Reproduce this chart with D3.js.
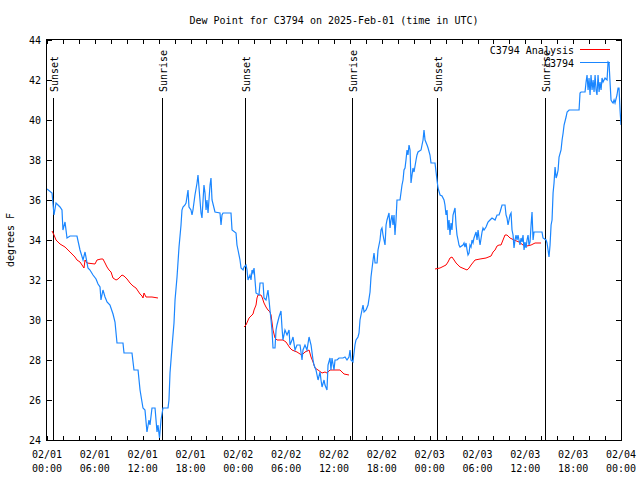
<!DOCTYPE html>
<html>
<head>
<meta charset="utf-8">
<script src="https://cdn.jsdelivr.net/npm/d3@7"></script>
<style>
body{margin:0;background:#fff;}
svg{display:block;}
text{font-family:"DejaVu Sans Mono",monospace;font-size:10px;fill:#000;}
</style>
</head>
<body>
<svg id="chart" width="640" height="480"></svg>
<script>
const title = "Dew Point for C3794 on 2025-Feb-01 (time in UTC)";
const yLabel = "degrees F";
const startTime = "2025-02-01T00:00:00Z";
const endTime = "2025-02-04T00:00:00Z";
const yTicks = [24,26,28,30,32,34,36,38,40,42,44];
const seriesNames = ["C3794 Analysis","C3794"];

// Observations: hours since start, dew point (F)
const obsHours = [0.0,0.63,0.88,1.13,1.63,1.88,2.0,2.26,2.51,2.89,3.76,4.14,4.52,4.77,5.14,5.39,5.77,6.15,6.4,6.65,6.77,7.02,7.28,7.53,7.9,8.28,8.53,8.78,9.53,9.66,10.66,10.91,11.42,11.67,12.04,12.29,12.54,12.79,12.92,13.17,13.55,13.8,13.92,14.11,14.3,14.55,15.18,15.3,15.43,15.68,15.93,16.06,16.31,16.56,16.81,16.93,17.06,17.31,17.44,17.69,17.81,18.06,18.19,18.31,18.56,18.82,18.94,19.19,19.32,19.44,19.69,19.82,19.95,20.07,20.2,20.45,20.57,20.7,20.95,21.07,21.7,21.83,21.95,22.08,23.08,23.21,23.71,23.83,23.96,24.21,24.34,24.59,24.71,24.96,25.09,25.21,25.46,25.59,25.72,25.84,25.97,26.22,26.59,26.72,27.1,27.22,27.47,27.72,27.85,27.97,28.1,28.22,28.35,28.6,28.73,28.85,29.1,29.35,29.48,29.6,29.85,30.11,30.36,30.48,30.73,30.86,31.11,31.36,31.74,31.99,32.11,32.36,32.61,32.87,33.12,33.37,33.49,33.74,34.0,34.25,34.37,34.5,34.75,34.87,35.12,35.25,35.5,35.62,35.75,36.0,36.13,36.38,36.63,37.13,37.38,37.63,37.88,38.01,38.13,38.38,38.63,38.76,39.01,39.14,39.26,39.51,39.64,39.77,40.02,40.27,40.52,40.64,40.9,41.02,41.15,41.4,41.52,41.77,41.9,42.02,42.15,42.27,42.4,42.53,42.65,42.9,43.03,43.15,43.28,43.4,43.53,43.65,43.78,43.9,44.28,44.53,44.66,44.78,44.91,45.03,45.16,45.28,45.41,45.54,45.66,45.79,45.91,46.04,46.29,46.41,46.54,46.92,47.04,47.17,47.29,47.42,47.67,47.8,48.04,48.17,48.67,48.92,49.05,49.3,49.55,49.8,49.92,50.05,50.18,50.3,50.43,50.55,50.68,50.8,50.93,51.18,51.31,51.43,51.56,51.68,51.81,52.18,52.31,52.43,52.56,52.69,52.81,52.94,53.06,53.19,53.31,53.44,53.56,53.82,53.94,54.07,54.19,54.32,54.57,54.69,54.82,55.07,55.32,55.57,55.82,56.2,56.45,56.7,56.83,57.08,57.45,57.58,57.7,57.83,58.08,58.21,58.33,58.46,58.58,58.71,58.83,58.96,59.08,59.33,59.46,59.59,59.71,59.84,59.96,60.09,60.21,60.34,60.46,60.59,60.72,60.84,60.97,61.09,62.09,62.22,62.6,62.72,62.85,62.97,63.1,63.23,63.35,63.48,63.6,63.73,63.86,63.98,64.11,64.23,64.48,64.61,64.74,64.86,65.11,65.24,65.49,66.74,66.86,66.99,67.49,67.62,67.74,67.87,67.99,68.12,68.24,68.37,68.5,68.62,68.75,68.87,68.99,69.12,69.25,69.37,69.5,69.62,69.75,70.0,70.25,70.38,70.5,70.63,70.75,70.88,71.0,71.13,71.25,71.5,71.63,71.75,71.88,72.0];
const obsValues = [36.55,36.35,35.25,35.85,35.65,35.5,34.5,34.9,34.1,34.2,34.2,33.5,33.0,33.4,32.6,32.5,32.25,32.05,31.8,31.65,31.0,31.5,31.15,30.9,30.75,30.3,29.9,28.85,28.85,28.35,28.35,27.5,27.5,26.5,25.6,25.5,24.4,25.0,24.75,25.6,25.6,24.4,24.75,24.1,25.0,25.6,25.6,26.0,27.35,28.65,29.85,31.0,32.15,33.65,34.75,35.5,35.65,35.75,35.85,36.5,35.65,35.5,35.25,35.5,36.25,36.85,37.25,36.0,35.35,35.1,36.75,36.35,35.5,36.0,35.35,36.75,37.1,36.0,35.6,35.4,35.35,34.75,35.25,35.35,35.35,34.5,34.35,33.75,33.5,33.0,32.6,32.5,32.65,32.75,32.5,32.0,32.25,32.0,32.5,32.35,32.6,31.35,31.25,31.85,31.85,31.1,31.0,31.5,31.0,30.5,30.0,29.5,28.6,28.6,29.5,29.75,30.15,30.45,29.6,29.0,29.5,29.25,29.5,28.75,29.0,29.15,28.5,28.75,28.75,28.0,28.5,28.75,28.5,29.15,28.75,28.0,27.75,27.5,27.0,27.4,27.0,26.65,27.0,26.75,26.5,27.75,28.1,27.5,28.1,27.5,28.0,28.0,28.1,28.1,28.15,28.0,28.15,28.5,28.0,27.9,28.75,29.0,29.15,29.35,30.0,30.5,30.75,30.4,30.5,30.75,31.4,32.15,33.0,33.35,32.85,32.85,33.5,34.0,34.5,34.6,34.25,34.0,33.75,34.75,35.0,35.35,34.6,35.0,35.25,34.75,35.25,34.25,35.0,36.0,36.0,36.75,37.0,37.5,37.6,38.0,38.5,38.25,38.75,38.5,36.85,37.25,37.6,37.4,38.0,38.25,38.4,38.5,38.75,39.0,39.5,39.0,38.75,38.6,38.25,37.85,37.85,37.0,36.6,36.25,36.2,36.0,35.75,35.25,35.5,34.5,35.0,34.25,34.85,34.5,35.25,35.6,34.75,34.25,34.0,33.75,33.65,33.75,33.85,33.65,33.85,33.5,33.25,33.35,33.75,33.65,34.0,33.85,34.1,34.4,34.0,34.5,34.1,33.75,34.4,34.6,34.5,34.65,34.9,35.0,35.1,35.0,35.25,35.25,35.4,35.75,35.75,35.25,35.1,34.75,35.25,35.35,34.5,34.25,33.6,34.0,34.25,34.0,34.25,33.75,34.1,33.9,34.25,33.5,33.9,33.6,34.0,34.25,33.75,33.9,34.75,35.4,34.0,34.4,34.4,34.1,34.0,33.85,33.5,33.15,33.75,34.75,35.0,36.35,36.85,37.65,37.1,37.25,37.5,38.15,38.5,39.0,39.35,39.75,40.15,40.4,40.5,40.5,41.35,41.4,41.4,41.9,42.25,41.5,42.1,41.25,42.25,41.5,42.0,41.4,42.25,41.5,41.25,42.25,41.4,41.9,41.5,42.1,41.9,42.1,42.0,42.9,42.85,41.85,41.0,40.9,40.85,41.0,40.85,41.25,41.6,41.6,40.5,39.75];

// Analysis: hours since start, dew point (F); null marks a gap
const anaHours = [0.63,0.88,1.13,1.63,2.26,2.89,3.51,3.76,4.14,4.64,4.77,5.02,6.02,6.27,6.77,7.02,7.28,7.53,7.78,8.03,8.28,8.66,8.91,9.41,9.66,10.04,10.41,10.79,11.16,11.67,11.92,12.04,12.17,12.42,13.17,13.92,
  19.0,
  24.71,24.96,25.34,25.59,25.84,25.97,26.22,26.34,26.47,26.84,26.97,27.22,27.47,27.72,27.97,28.1,28.22,28.35,28.6,28.85,29.6,29.98,30.23,30.48,30.73,31.36,31.74,31.99,32.36,32.87,33.12,33.37,33.62,34.0,34.5,34.87,35.12,35.5,36.75,37.26,37.88,
  43.0,
  48.67,49.3,50.05,50.3,50.55,50.8,51.06,51.31,51.81,52.69,52.94,53.19,53.69,54.32,55.07,55.7,55.95,56.2,56.45,56.7,56.95,57.2,57.45,57.7,58.08,58.58,59.21,59.71,60.21,60.72,61.22,61.97];
const anaValues = [34.45,34.25,34.0,33.8,33.65,33.4,33.15,33.0,32.9,32.6,33.0,32.85,32.8,33.0,33.05,33.05,32.85,32.65,32.5,32.4,32.1,32.0,32.05,32.25,32.2,32.05,31.85,31.7,31.6,31.3,31.2,31.1,31.35,31.15,31.15,31.1,
  null,
  29.65,29.75,30.1,30.2,30.3,30.5,30.75,31.1,31.25,31.25,31.15,30.85,30.65,30.5,30.4,30.25,29.9,29.5,29.1,29.0,29.0,28.9,28.75,28.6,28.5,28.4,28.3,28.25,28.4,28.5,28.15,27.9,27.6,27.5,27.35,27.4,27.35,27.5,27.5,27.3,27.25,
  null,
  32.55,32.6,32.75,32.9,33.1,33.15,33.0,32.85,32.65,32.5,32.6,32.75,33.0,33.05,33.1,33.2,33.4,33.5,33.7,33.75,33.75,34.0,34.25,34.25,34.1,34.0,33.9,33.75,33.7,33.75,33.85,33.85];

// Sunrise / sunset markers, hours since start
const sunHours = [0.75,14.4,24.8,38.3,48.9,62.5];
const sunLabels = ["Sunset","Sunrise","Sunset","Sunrise","Sunset","Sunrise"];

const colors = {analysis:"#ff0000", obs:"#1a86ff"};

const svg = d3.select("#chart");
const L=47, R=621, T=40, B=440;
const t0 = new Date(startTime), t1 = new Date(endTime);
const hToDate = h => new Date(t0.getTime() + h*3600000);
const x = d3.scaleUtc().domain([t0,t1]).range([L,R]);
const y = d3.scaleLinear().domain([24,44]).range([B,T]);

// Title
svg.append("text").attr("x",(L+R)/2).attr("y",24).attr("text-anchor","middle").text(title);
// Y label
svg.append("text").attr("transform",`translate(14,${(T+B)/2}) rotate(-90)`).attr("text-anchor","middle").text(yLabel);

const g = svg.append("g");
// y ticks left/right inward
const yt = g.append("g").attr("shape-rendering","crispEdges");
yTicks.forEach(v=>{
  const yy = Math.round(y(v))+0.5;
  yt.append("line").attr("x1",L).attr("x2",L+5).attr("y1",yy).attr("y2",yy).attr("stroke","#000");
  yt.append("line").attr("x1",R-5).attr("x2",R).attr("y1",yy).attr("y2",yy).attr("stroke","#000");
  svg.append("text").attr("x",L-6).attr("y",y(v)+3.5).attr("text-anchor","end").text(v);
});
// x ticks every 2h, inward top and bottom
const minor = d3.utcHour.every(2).range(t0, d3.utcHour.offset(t1,1));
minor.forEach(d=>{
  const xx = Math.round(x(d))+0.5;
  yt.append("line").attr("x1",xx).attr("x2",xx).attr("y1",B).attr("y2",B-4).attr("stroke","#000");
  yt.append("line").attr("x1",xx).attr("x2",xx).attr("y1",T).attr("y2",T+4).attr("stroke","#000");
});
const major = d3.utcHour.every(6).range(t0, d3.utcHour.offset(t1,1));
const fDay = d3.utcFormat("%m/%d"), fHr = d3.utcFormat("%H:%M");
major.forEach(d=>{
  const t = svg.append("text").attr("x",x(d)).attr("text-anchor","middle");
  t.append("tspan").attr("x",x(d)).attr("y",458).text(fDay(d));
  t.append("tspan").attr("x",x(d)).attr("y",472).text(fHr(d));
});

// Sun markers
sunHours.forEach((h,i)=>{
  const xx = Math.round(x(hToDate(h)))+0.5;
  svg.append("line").attr("x1",xx).attr("x2",xx).attr("y1",98).attr("y2",B)
    .attr("stroke","#000").attr("shape-rendering","crispEdges");
  svg.append("text").attr("transform",`translate(${xx+4.5},92) rotate(-90)`)
    .attr("text-anchor","start").text(sunLabels[i]);
});

// clip
svg.append("clipPath").attr("id","clip").append("rect").attr("x",L).attr("y",T).attr("width",R-L).attr("height",B-T);

const line = d3.line().defined(d=>d[1]!==null).x(d=>x(hToDate(d[0]))).y(d=>y(d[1]));
const anaData = anaHours.map((h,i)=>[h,anaValues[i]]);
const obsData = obsHours.map((h,i)=>[h,obsValues[i]]);

svg.append("path").attr("clip-path","url(#clip)").attr("d",line(anaData))
  .attr("fill","none").attr("stroke",colors.analysis).attr("stroke-width",1);
svg.append("path").attr("clip-path","url(#clip)").attr("d",line(obsData))
  .attr("fill","none").attr("stroke",colors.obs).attr("stroke-width",1.2);

// Legend
const legY = [50,63];
const legCol = [colors.analysis, colors.obs];
seriesNames.forEach((n,i)=>{
  svg.append("text").attr("x",574).attr("y",legY[i]+3.5).attr("text-anchor","end").text(n);
  svg.append("line").attr("x1",580).attr("x2",610).attr("y1",legY[i]-0.5).attr("y2",legY[i]-0.5)
    .attr("stroke",legCol[i]).attr("stroke-width",1);
});

// Frame
svg.append("rect").attr("x",L-0.5).attr("y",T-0.5).attr("width",R-L+1).attr("height",B-T+1)
  .attr("fill","none").attr("stroke","#000").attr("shape-rendering","crispEdges");
</script>
</body>
</html>
